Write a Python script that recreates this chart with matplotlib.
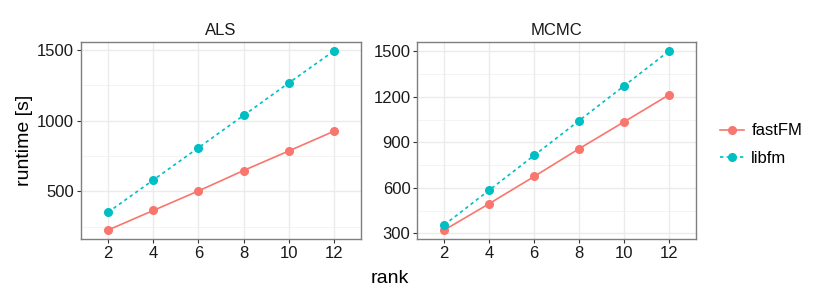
import matplotlib
matplotlib.use("Agg")
import matplotlib.pyplot as plt

plt.rcParams['font.family'] = ['Liberation Sans', 'DejaVu Sans']

ranks = [2, 4, 6, 8, 10, 12]
als_fastfm = [227, 365, 503, 647, 785, 924]
als_libfm = [353, 580, 808, 1036, 1265, 1491]
mcmc_fastfm = [322, 496, 675, 858, 1035, 1213]
mcmc_libfm = [356, 585, 814, 1043, 1272, 1502]

panels = ["ALS", "MCMC"]
series = ["fastFM", "libfm"]
colors = {"fastFM": "#F8766D", "libfm": "#00BFC4"}
styles = {"fastFM": "-", "libfm": (0, (2, 2))}
data = {"ALS": {"fastFM": als_fastfm, "libfm": als_libfm},
        "MCMC": {"fastFM": mcmc_fastfm, "libfm": mcmc_libfm}}
yticks = {"ALS": [500, 1000, 1500], "MCMC": [300, 600, 900, 1200, 1500]}
yminor = {"ALS": [250, 750, 1250], "MCMC": [450, 750, 1050, 1350]}

fig = plt.figure(figsize=(8.3, 2.97), dpi=100)
boxes = [[0.0976, 0.1953, 0.3373, 0.6633], [0.5028, 0.1953, 0.3358, 0.6633]]

handles = []
for box, p in zip(boxes, panels):
    ax = fig.add_axes(box)
    lo = min(min(v) for v in data[p].values())
    hi = max(max(v) for v in data[p].values())
    pad = (hi - lo) * 0.05
    ax.set_ylim(lo - pad, hi + pad)
    ax.set_xlim(0.8, 13.2)
    for m in yminor[p]:
        ax.axhline(m, color="#F2F2F2", lw=0.6, zorder=0)
    for t in yticks[p]:
        ax.axhline(t, color="#EBEBEB", lw=1.0, zorder=0)
    for r in ranks:
        ax.axvline(r, color="#EBEBEB", lw=1.0, zorder=0)
    for s in series:
        h, = ax.plot(ranks, data[p][s], color=colors[s], linestyle=styles[s],
                     lw=1.2, marker="o", markersize=5.5, label=s, zorder=3)
        if p == "ALS":
            handles.append(h)
    ax.set_xticks(ranks)
    ax.set_yticks(yticks[p])
    ax.tick_params(axis="both", direction="out", length=3, width=0.8,
                   color="#333333", labelsize=12, labelcolor="#1a1a1a", pad=2)
    for sp in ax.spines.values():
        sp.set_color("#7F7F7F")
        sp.set_linewidth(1.0)
    ax.set_title(p, fontsize=12, color="#1a1a1a", pad=5)

fig.text(0.03, 0.527, "runtime [s]", rotation=90, ha="center", va="center", fontsize=14)
fig.text(0.47, 0.062, "rank", ha="center", va="center", fontsize=14)
fig.legend(handles=handles, labels=series, loc="center left",
           bbox_to_anchor=(0.849, 0.513), frameon=False, fontsize=12,
           handlelength=1.45, labelspacing=0.75, handletextpad=0.45)

fig.savefig("out.png", dpi=100)
